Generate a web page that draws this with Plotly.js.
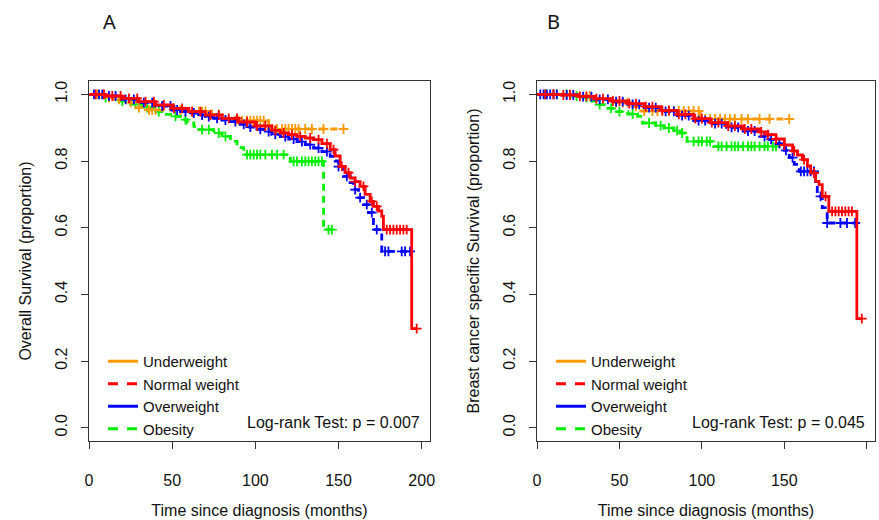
<!DOCTYPE html>
<html>
<head>
<meta charset="utf-8">
<script src="https://cdn.plot.ly/plotly-3.0.1.min.js"></script>
<style>html,body{margin:0;padding:0;background:#fff;}#chart{width:879px;height:520px;}</style>
</head>
<body>
<div id="chart"></div>
<script>
// ---------- Data ----------
const groups = ["Underweight", "Normal weight", "Overweight", "Obesity"];
const xTicks = [0, 50, 100, 150, 200];
const yTicks = [0, 0.2, 0.4, 0.6, 0.8, 1.0];
const pValueA = "Log-rank Test: p = 0.007";
const pValueB = "Log-rank Test: p = 0.045";

// Panel A: Overall survival
const A_under_t = [0, 8, 15, 22, 28, 35, 60, 72, 80, 86, 108];
const A_under_s = [1.0, 0.99, 0.985, 0.975, 0.96, 0.953, 0.948, 0.94, 0.929, 0.921, 0.896];
const A_under_end = 153;
const A_under_cens = [5, 12, 18, 25, 30, 36, 38, 40, 55, 62, 66, 68, 70, 74, 78, 88, 90, 92, 95, 97, 99, 101, 103, 105, 110, 113, 116, 118, 120, 122, 124, 126, 130, 134, 141, 153];

const A_normal_t = [0, 10, 20, 30, 40, 50, 60, 70, 80, 90, 100, 110, 115, 120, 125, 130, 135, 140, 145, 148, 151, 154, 157, 160, 163, 166, 169, 171, 174, 176, 177, 194];
const A_normal_s = [1.0, 0.995, 0.988, 0.978, 0.968, 0.958, 0.948, 0.938, 0.928, 0.917, 0.905, 0.892, 0.884, 0.879, 0.874, 0.869, 0.864, 0.852, 0.834, 0.815, 0.784, 0.765, 0.749, 0.738, 0.724, 0.70, 0.679, 0.664, 0.65, 0.634, 0.594, 0.297];
const A_normal_end = 197;
const A_normal_cens = [4, 9, 14, 19, 24, 29, 34, 39, 45, 51, 56, 62, 67, 73, 78, 84, 89, 95, 101, 106, 112, 117, 122, 127, 133, 138, 143, 147, 152, 156, 160, 165, 170, 173, 179, 181, 183, 185, 187, 189, 191, 197];

const A_over_t = [0, 10, 20, 30, 40, 50, 55, 60, 65, 70, 75, 80, 85, 90, 95, 100, 105, 110, 115, 120, 125, 130, 135, 140, 145, 148, 150, 153, 156, 159, 162, 165, 168, 171, 176];
const A_over_s = [1.0, 0.995, 0.985, 0.975, 0.965, 0.953, 0.948, 0.944, 0.938, 0.933, 0.928, 0.923, 0.918, 0.91, 0.902, 0.895, 0.888, 0.88, 0.873, 0.866, 0.858, 0.849, 0.839, 0.828, 0.814, 0.80, 0.783, 0.754, 0.735, 0.714, 0.69, 0.669, 0.645, 0.594, 0.529];
const A_over_end = 193;
const A_over_cens = [3, 6, 8, 12, 16, 22, 27, 33, 38, 44, 49, 53, 58, 63, 68, 72, 77, 82, 88, 93, 97, 103, 108, 112, 118, 123, 128, 133, 138, 143, 150, 155, 160, 163, 167, 170, 173, 178, 180, 188, 190, 193];

const A_obese_t = [0, 8, 15, 25, 32, 39, 45, 49, 55, 59, 63, 65, 75, 80, 85, 89, 93, 121, 141];
const A_obese_s = [1.0, 0.99, 0.98, 0.97, 0.96, 0.948, 0.94, 0.934, 0.924, 0.914, 0.904, 0.894, 0.884, 0.874, 0.859, 0.84, 0.819, 0.799, 0.594];
const A_obese_end = 146;
const A_obese_cens = [10, 20, 28, 35, 42, 52, 58, 68, 72, 78, 82, 95, 97, 99, 101, 103, 106, 110, 113, 117, 123, 125, 128, 130, 132, 134, 136, 138, 140, 144, 146];

// Panel B: Breast cancer specific survival
const B_under_t = [0, 25, 35, 45, 58, 62, 99];
const B_under_s = [1.0, 0.995, 0.985, 0.975, 0.964, 0.95, 0.926];
const B_under_end = 153.5;
const B_under_cens = [10, 20, 32, 48, 52, 55, 60, 65, 70, 73, 76, 80, 83, 86, 89, 92, 95, 98, 102, 105, 108, 111, 114, 117, 120, 124, 128, 135, 141, 153];

const B_normal_t = [0, 15, 25, 35, 45, 55, 65, 75, 85, 95, 105, 115, 125, 135, 140, 145, 150, 155, 158, 161, 164, 166, 169, 171, 173, 177, 194];
const B_normal_s = [1.0, 0.998, 0.994, 0.987, 0.98, 0.972, 0.963, 0.952, 0.94, 0.927, 0.915, 0.905, 0.896, 0.887, 0.879, 0.866, 0.848, 0.83, 0.818, 0.804, 0.785, 0.764, 0.739, 0.729, 0.694, 0.649, 0.327];
const B_normal_end = 197;
const B_normal_cens = [5, 10, 16, 20, 26, 30, 36, 40, 46, 50, 56, 60, 66, 70, 76, 80, 86, 90, 96, 100, 106, 110, 116, 120, 126, 130, 136, 140, 145, 150, 156, 162, 168, 175, 179, 181, 183, 185, 187, 189, 191, 197];

const B_over_t = [0, 15, 25, 35, 45, 55, 65, 75, 85, 95, 105, 115, 125, 135, 140, 145, 150, 153, 156, 159, 169, 170, 173, 176];
const B_over_s = [1.0, 0.998, 0.993, 0.985, 0.978, 0.97, 0.96, 0.949, 0.936, 0.921, 0.912, 0.901, 0.89, 0.874, 0.865, 0.852, 0.832, 0.81, 0.79, 0.769, 0.725, 0.694, 0.66, 0.614];
const B_over_end = 193;
const B_over_cens = [2, 4, 6, 8, 10, 12, 18, 22, 28, 33, 38, 43, 48, 52, 58, 62, 68, 72, 78, 83, 88, 92, 98, 102, 108, 112, 118, 122, 128, 132, 138, 142, 147, 151, 155, 160, 162, 164, 166, 168, 172, 176, 184, 188, 193];

const B_obese_t = [0, 20, 26, 32, 36, 42, 47, 55, 61, 64, 72, 77, 83, 87, 91, 107];
const B_obese_s = [1.0, 0.995, 0.99, 0.98, 0.969, 0.958, 0.948, 0.941, 0.934, 0.914, 0.906, 0.899, 0.891, 0.884, 0.859, 0.844];
const B_obese_end = 145.4;
const B_obese_cens = [5, 12, 18, 24, 30, 38, 45, 50, 58, 68, 75, 80, 85, 88, 95, 98, 100, 103, 105, 110, 112, 115, 118, 120, 122, 125, 128, 130, 132, 135, 138, 140, 143, 145];

// ---------- Styles ----------
const colors = ["#FF9900", "#FF0000", "#0000FF", "#00EE00"];
const curveDash = ["7px,5px", "solid", "7px,5px", "7px,5px"];
const legendDash = ["solid", "10px,9px", "solid", "10px,9px"];
const FONT = '"Liberation Sans", Arial, sans-serif';

function stepVal(ts, ss, c) {
  let v = ss[0];
  for (let i = 0; i < ts.length; i++) { if (ts[i] <= c) v = ss[i]; }
  return v;
}

function kmTraces(ts, ss, end, cens, gi, xa, ya) {
  const x = ts.concat([end]);
  const y = ss.concat([ss[ss.length - 1]]);
  const line = {
    x: x, y: y, xaxis: xa, yaxis: ya, mode: "lines", showlegend: false,
    hoverinfo: "skip",
    line: {shape: "hv", color: colors[gi], width: 2.8, dash: curveDash[gi]}
  };
  const mk = {
    x: cens, y: cens.map(c => stepVal(ts, ss, c)), xaxis: xa, yaxis: ya,
    mode: "markers", showlegend: false, hoverinfo: "skip",
    marker: {symbol: "cross-thin", size: 7, color: colors[gi], line: {color: colors[gi], width: 1.8}}
  };
  return [line, mk];
}

const panelA = [
  [A_under_t, A_under_s, A_under_end, A_under_cens],
  [A_normal_t, A_normal_s, A_normal_end, A_normal_cens],
  [A_over_t, A_over_s, A_over_end, A_over_cens],
  [A_obese_t, A_obese_s, A_obese_end, A_obese_cens]
];
const panelB = [
  [B_under_t, B_under_s, B_under_end, B_under_cens],
  [B_normal_t, B_normal_s, B_normal_end, B_normal_cens],
  [B_over_t, B_over_s, B_over_end, B_over_cens],
  [B_obese_t, B_obese_s, B_obese_end, B_obese_cens]
];

let traces = [];
const order = [3, 0, 2, 1];
order.forEach(gi => {
  const a = panelA[gi];
  traces = traces.concat(kmTraces(a[0], a[1], a[2], a[3], gi, "x", "y"));
});
order.forEach(gi => {
  const b = panelB[gi];
  traces = traces.concat(kmTraces(b[0], b[1], b[2], b[3], gi, "x2", "y2"));
});
groups.forEach((g, gi) => {
  traces.push({x: [null], y: [null], xaxis: "x", yaxis: "y", mode: "lines", name: g, legend: "legend",
    line: {color: colors[gi], width: 3, dash: legendDash[gi]}});
});
groups.forEach((g, gi) => {
  traces.push({x: [null], y: [null], xaxis: "x2", yaxis: "y2", mode: "lines", name: g, legend: "legend2",
    line: {color: colors[gi], width: 3, dash: legendDash[gi]}});
});

function xAxis(domain, anchor) {
  return {
    domain: domain, anchor: anchor, range: [0, 205], tickvals: xTicks,
    ticks: "outside", ticklen: 7, tickcolor: "#333", tickwidth: 1,
    showline: true, mirror: true, linecolor: "#333", linewidth: 1,
    showgrid: false, zeroline: false, ticklabelstandoff: 18,
    tickfont: {family: FONT, size: 16, color: "#111"},
    title: {text: "Time since diagnosis (months)", font: {family: FONT, size: 16, color: "#111"}, standoff: 16}
  };
}
function yAxis(domain, anchor, title) {
  return {
    domain: domain, anchor: anchor, range: [-0.04, 1.04], tickvals: yTicks, tickformat: ".1f",
    tickangle: -90,
    ticks: "outside", ticklen: 7, tickcolor: "#333", tickwidth: 1,
    showline: true, mirror: true, linecolor: "#333", linewidth: 1,
    showgrid: false, zeroline: false, ticklabelstandoff: 8,
    tickfont: {family: FONT, size: 16, color: "#111"},
    title: {text: title, font: {family: FONT, size: 16, color: "#111"}, standoff: 16}
  };
}

const yDom = [1 - 441 / 520, 1 - 81 / 520];
const legendFont = {family: FONT, size: 15, color: "#111"};
const layout = {
  width: 879, height: 520,
  margin: {l: 0, r: 0, t: 0, b: 0},
  paper_bgcolor: "#fff", plot_bgcolor: "#fff",
  showlegend: true,
  xaxis: xAxis([89 / 879, 430 / 879], "y"),
  yaxis: yAxis(yDom, "x", "Overall Survival (proportion)"),
  xaxis2: xAxis([537 / 879, 875 / 879], "y2"),
  yaxis2: yAxis(yDom, "x2", "Breast cancer specific Survival (proportion)"),
  legend: {x: 103 / 879, y: 1 - 345 / 520, xanchor: "left", yanchor: "top", bgcolor: "rgba(0,0,0,0)",
    borderwidth: 0, font: legendFont, tracegroupgap: 0, itemwidth: 30},
  legend2: {x: 551 / 879, y: 1 - 345 / 520, xanchor: "left", yanchor: "top", bgcolor: "rgba(0,0,0,0)",
    borderwidth: 0, font: legendFont, tracegroupgap: 0, itemwidth: 30},
  annotations: [
    {text: "A", xref: "paper", yref: "paper", x: 109 / 879, y: 1 - 22 / 520, xanchor: "center", yanchor: "middle",
      showarrow: false, font: {family: '"Noto Sans", sans-serif', size: 20, color: "#111"}},
    {text: "B", xref: "paper", yref: "paper", x: 553 / 879, y: 1 - 22 / 520, xanchor: "center", yanchor: "middle",
      showarrow: false, font: {family: '"Noto Sans", sans-serif', size: 20, color: "#111"}},
    {text: pValueA, xref: "x", yref: "y", x: 200, y: 0.015, xanchor: "right", yanchor: "middle",
      showarrow: false, font: {family: FONT, size: 16, color: "#111"}},
    {text: pValueB, xref: "x2", yref: "y2", x: 200, y: 0.015, xanchor: "right", yanchor: "middle",
      showarrow: false, font: {family: FONT, size: 16, color: "#111"}}
  ]
};

Plotly.newPlot("chart", traces, layout, {staticPlot: true, displayModeBar: false});
</script>
</body>
</html>
